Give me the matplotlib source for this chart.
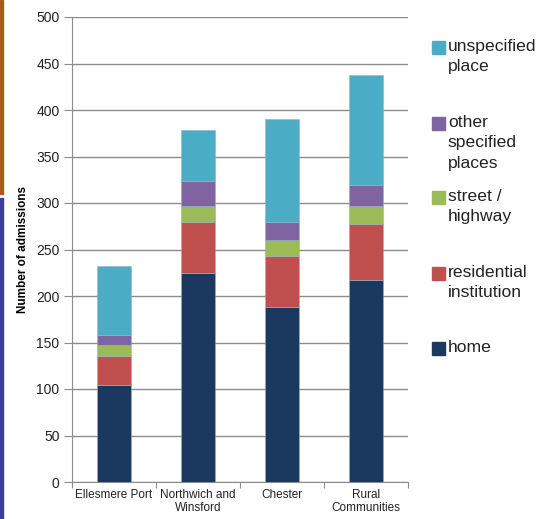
import matplotlib
matplotlib.use("Agg")
import matplotlib.pyplot as plt
from matplotlib.patches import Rectangle
import numpy as np

categories = ["Ellesmere Port", "Northwich and\nWinsford", "Chester", "Rural\nCommunities"]
home = [104, 225, 188, 217]
residential = [32, 55, 55, 60]
street = [11, 17, 17, 20]
other = [11, 27, 20, 22]
unspecified = [74, 55, 110, 119]

series_names = ["home", "residential\ninstitution", "street /\nhighway", "other\nspecified\nplaces", "unspecified\nplace"]
series_values = [home, residential, street, other, unspecified]
colors = ["#1B385E", "#C0504D", "#9BBB59", "#8064A2", "#4BACC6"]
yticks = [0, 50, 100, 150, 200, 250, 300, 350, 400, 450, 500]

W, H = 538, 519
fig = plt.figure(figsize=(W / 100, H / 100), dpi=100)
font = "Liberation Sans"
plt.rcParams["font.family"] = [font, "DejaVu Sans"]

ax = fig.add_axes([72 / W, (H - 482) / H, (408 - 72) / W, (482 - 17) / H])
x = np.arange(len(categories))
bottom = np.zeros(len(categories))
for vals, c in zip(series_values, colors):
    ax.bar(x, vals, width=0.4, bottom=bottom, color=c, edgecolor="#9AB0C8", linewidth=0.4, zorder=3)
    bottom += np.array(vals)

ax.set_xlim(-0.5, len(categories) - 0.5)
ax.set_ylim(0, 500)
ax.set_yticks(yticks)
ax.set_yticklabels([str(v) for v in yticks], fontsize=10, color="#222222")
ax.yaxis.grid(True, color="#8C8C8C", linewidth=1.0, zorder=0)
ax.set_axisbelow(True)
for s in ["top", "right"]:
    ax.spines[s].set_visible(False)
for s in ["left", "bottom"]:
    ax.spines[s].set_color("#8C8C8C")
ax.tick_params(axis="y", length=6, color="#8C8C8C", pad=3)
ax.set_xticks(np.arange(len(categories) + 1) - 0.5, minor=False)
ax.set_xticklabels([""] * (len(categories) + 1))
ax.tick_params(axis="x", length=4, color="#8C8C8C")
for i, lab in enumerate(categories):
    ax.text(i, -7, lab, ha="center", va="top", fontsize=8.5, transform=ax.transData,
            clip_on=False, linespacing=1.15, color="#222222")

ax.set_ylabel("Number of admissions", fontsize=8.5, fontweight="bold", labelpad=5)

# legend (manual, Excel-like)
sq_tops = [41, 117, 191, 267, 342]
leg_order = [4, 3, 2, 1, 0]
for top, idx in zip(sq_tops, leg_order):
    fig.patches.append(Rectangle((432 / W, (H - top - 13) / H), 13 / W, 13 / H,
                                 transform=fig.transFigure, color=colors[idx]))
    fig.text(448 / W, (H - top + 2) / H, series_names[idx], ha="left", va="top",
             fontsize=12.6, linespacing=1.45, color="#222222")

# left decorative edge
fig.patches.append(Rectangle((0, (H - 194) / H), 3 / W, 194 / H, transform=fig.transFigure, color="#A85A1E"))
fig.patches.append(Rectangle((0, 0), 3 / W, (H - 198) / H, transform=fig.transFigure, color="#3B3F9A"))

fig.savefig("out.png", dpi=100)
